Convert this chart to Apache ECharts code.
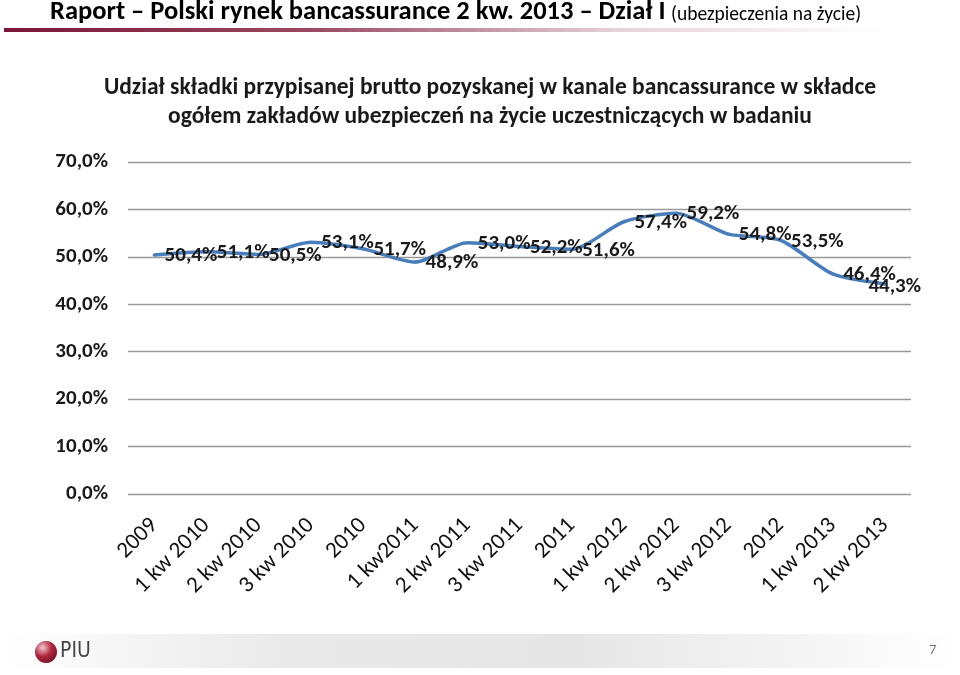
<!DOCTYPE html>
<html>
<head>
<meta charset="utf-8">
<script src="https://cdn.jsdelivr.net/npm/echarts@6/dist/echarts.min.js"></script>
<style>html,body{margin:0;padding:0;background:#fff}#c{width:960px;height:675px}</style>
</head>
<body>
<div id="c"></div>
<script>
const categories = ['2009','1 kw 2010','2 kw 2010','3 kw 2010','2010','1 kw2011','2 kw 2011','3 kw 2011','2011','1 kw 2012','2 kw 2012','3 kw 2012','2012','1 kw 2013','2 kw 2013'];
const shareValues = [50.4, 51.1, 50.5, 53.1, 51.7, 48.9, 53.0, 52.2, 51.6, 57.4, 59.2, 54.8, 53.5, 46.4, 44.3];
const yTicks = [0, 10, 20, 30, 40, 50, 60, 70];

const FONT = 'Carlito, Lato, "Open Sans", sans-serif';
const fmt = v => v.toFixed(1).replace('.', ',') + '%';
const lastIdx = shareValues.length - 1;

const chart = echarts.init(document.getElementById('c'));
chart.setOption({
  backgroundColor: '#ffffff',
  animation: false,
  title: {
    text: 'Udział składki przypisanej brutto pozyskanej w kanale bancassurance w składce\nogółem zakładów ubezpieczeń na życie uczestniczących w badaniu',
    left: 485, top: 69, textAlign: 'center',
    textStyle: { fontFamily: FONT, fontSize: 23.5, fontWeight: 'bold', color: '#1a1a1a', lineHeight: 29 }
  },
  grid: { left: 128, right: 49, top: 162, bottom: 181, containLabel: false },
  xAxis: {
    type: 'category', data: categories, boundaryGap: true,
    axisLine: { show: false }, axisTick: { show: false },
    axisLabel: { rotate: 45, interval: 0, margin: 28, fontFamily: FONT, fontSize: 23, color: '#111' }
  },
  yAxis: {
    type: 'value', min: 0, max: 70, interval: 10,
    axisLine: { show: false }, axisTick: { show: false },
    splitLine: { lineStyle: { color: '#9a9a9a', width: 1.3 } },
    axisLabel: { margin: 20, fontFamily: FONT, fontSize: 21, fontWeight: 'bold', color: '#1a1a1a', formatter: v => fmt(v) }
  },
  series: [{
    type: 'line', data: shareValues, smooth: 0.25, showSymbol: true, symbol: 'circle', symbolSize: 3,
    itemStyle: { color: '#4a7ebb' },
    lineStyle: { color: '#4a7ebb', width: 3.5 },
    label: { show: true, position: 'right', distance: 9, fontFamily: FONT, fontSize: 21, fontWeight: 'bold', color: '#1a1a1a', formatter: p => fmt(p.value) },
    // last label is pushed back inside the plot area, as in the original
    labelLayout: p => p.dataIndex === lastIdx ? { dx: -27, dy: 3, hideOverlap: false } : { dy: 1, hideOverlap: false }
  }],
  graphic: [
    { type: 'text', left: 50, top: -1, style: { text: 'Raport – Polski rynek bancassurance 2 kw. 2013 – Dział I', fontFamily: FONT, fontSize: 26.5, fontWeight: 'bold', fill: '#000' } },
    { type: 'text', left: 671, top: 5, style: { text: '(ubezpieczenia na życie)', fontFamily: FONT, fontSize: 19.5, fill: '#000' } },
    { type: 'rect', shape: { x: 4, y: 28, width: 880, height: 4 },
      style: { fill: new echarts.graphic.LinearGradient(0, 0, 1, 0, [
        { offset: 0, color: '#7a1535' }, { offset: 0.35, color: '#9a4a62' }, { offset: 0.7, color: '#e6d3d9' }, { offset: 1, color: '#ffffff' }]) } },
    { type: 'rect', shape: { x: 0, y: 634, width: 960, height: 34 },
      style: { fill: new echarts.graphic.LinearGradient(0, 0, 1, 0, [
        { offset: 0, color: '#ffffff' }, { offset: 0.3, color: '#e9e9e9' }, { offset: 0.6, color: '#e6e6e6' }, { offset: 1, color: '#ffffff' }]) } },
    { type: 'circle', shape: { cx: 46, cy: 652, r: 11 },
      style: { fill: new echarts.graphic.RadialGradient(0.35, 0.3, 0.8, [
        { offset: 0, color: '#f2c9d2' }, { offset: 0.5, color: '#b0283f' }, { offset: 1, color: '#6e0f22' }]) } },
    { type: 'text', left: 60, top: 641, style: { text: 'PIU', fontFamily: '"Liberation Sans Narrow", "DejaVu Sans Condensed", sans-serif', fontSize: 21, fill: '#444' } },
    { type: 'text', left: 929, top: 643, style: { text: '7', fontFamily: FONT, fontSize: 15, fill: '#777' } }
  ]
});
</script>
</body>
</html>
